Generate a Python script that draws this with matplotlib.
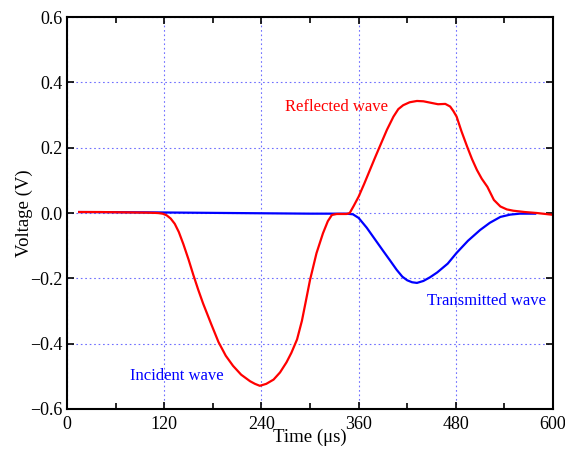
import numpy as np
import matplotlib
matplotlib.use('Agg')
from matplotlib import pyplot as plt
from matplotlib.ticker import MultipleLocator

plt.rcParams['font.family'] = ['Liberation Serif', 'DejaVu Serif']

# red trace (incident + reflected)
t_red = [15, 40, 70, 100, 112, 118, 123, 128, 133, 138, 143.6, 150, 156, 162, 168, 178, 187,
         196, 205, 215, 226, 232, 238, 246, 255, 263, 271, 277, 284, 290, 295, 300, 308, 316, 322,
         327, 333, 340, 345, 349, 354, 360, 367, 374, 380, 386, 395, 403, 409, 415, 423, 432,
         440, 448, 458, 467, 473, 477, 481, 487, 494, 500, 506, 512, 519, 527, 535, 543, 551,
         565, 580, 598]
v_red = [0.003, 0.003, 0.002, 0.001, 0.0, -0.002, -0.007, -0.017, -0.033, -0.058, -0.095, -0.142,
         -0.19, -0.235, -0.277, -0.34, -0.395, -0.437, -0.468, -0.495, -0.515, -0.523, -0.529,
         -0.523, -0.51, -0.488, -0.457, -0.428, -0.387, -0.33, -0.268, -0.205, -0.123, -0.062,
         -0.025, -0.006, -0.003, -0.003, -0.003, 0.0, 0.022, 0.05, 0.09, 0.132, 0.168, 0.203,
         0.255, 0.295, 0.318, 0.33, 0.339, 0.343, 0.342, 0.338, 0.333, 0.334, 0.326, 0.312,
         0.295, 0.25, 0.203, 0.165, 0.132, 0.105, 0.08, 0.04, 0.02, 0.011, 0.007, 0.003, 0.0,
         -0.005]

# blue trace (transmitted)
t_blue = [15, 100, 200, 300, 345, 353, 360, 370, 378, 390, 399, 407, 414, 420, 426, 432, 440,
          448, 457, 470, 481, 495, 510, 522, 535, 547, 559, 578]
v_blue = [0.003, 0.002, 0.0, -0.002, -0.002, -0.004, -0.015, -0.045, -0.073, -0.115, -0.146,
          -0.174, -0.195, -0.206, -0.212, -0.214, -0.208, -0.197, -0.182, -0.155, -0.122, -0.085,
          -0.052, -0.03, -0.012, -0.005, -0.002, -0.002]

fig = plt.figure(figsize=(5.65, 4.49), dpi=100)
ax = fig.add_axes([0.1186, 0.0891, 0.8602, 0.873])

ax.plot(t_blue, v_blue, color='blue', lw=1.6)
ax.plot(t_red, v_red, color='red', lw=1.6)

ax.set_xlim(0, 600)
ax.set_ylim(-0.6, 0.6)
ax.xaxis.set_major_locator(MultipleLocator(120))
ax.xaxis.set_minor_locator(MultipleLocator(60))
ax.yaxis.set_major_locator(MultipleLocator(0.2))
ax.yaxis.set_major_formatter(plt.FuncFormatter(lambda v, p: f"{v:.1f}".replace('-', '\u2212')))

ax.grid(True, which='major', color='#6f6fff', ls=(0, (1.5, 2.5)), lw=0.8)
ax.tick_params(which='both', direction='in', top=True, right=True, labelsize=13, width=1.2)
ax.tick_params(which='major', length=5)
ax.tick_params(which='minor', length=4)
ax.tick_params(axis='x', pad=5)
for s in ax.spines.values():
    s.set_linewidth(1.5)

ax.set_xlabel('Time (μs)', fontsize=13.5, labelpad=-3)
ax.set_ylabel('Voltage (V)', fontsize=13.5, labelpad=-2)

ax.text(269, 0.325, 'Reflected wave', color='red', fontsize=12, va='center')
ax.text(78, -0.5, 'Incident wave', color='blue', fontsize=12, va='center')
ax.text(444, -0.27, 'Transmitted wave', color='blue', fontsize=12, va='center')

fig.savefig('out.png', dpi=100)
